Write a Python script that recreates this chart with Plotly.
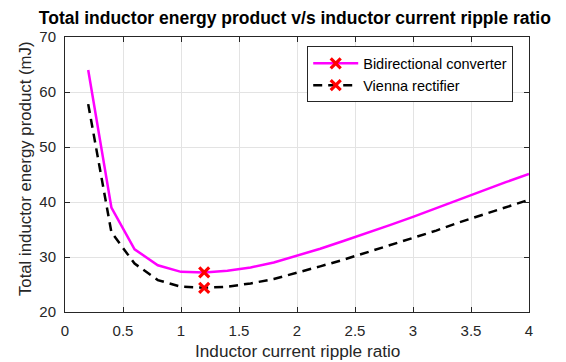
import plotly.graph_objects as go

ripple = [0.2, 0.4, 0.6, 0.8, 1.0, 1.2, 1.4, 1.6, 1.8, 2.0, 2.2, 2.4, 2.6, 2.8,
          3.0, 3.2, 3.4, 3.6, 3.8, 4.0]
bidirectional = [64.0, 39.0, 31.4, 28.5, 27.3, 27.2, 27.5, 28.1, 29.0, 30.2, 31.5,
                 32.9, 34.3, 35.8, 37.3, 38.9, 40.5, 42.1, 43.6, 45.1]
vienna = [57.8, 34.5, 28.8, 25.8, 24.6, 24.4, 24.6, 25.2, 26.0, 27.1, 28.3, 29.5,
          30.8, 32.1, 33.4, 34.8, 36.3, 37.7, 39.0, 40.4]
names = ["Bidirectional converter", "Vienna rectifier"]
x_ticks = [0, 0.5, 1, 1.5, 2, 2.5, 3, 3.5, 4]
y_ticks = [20, 30, 40, 50, 60, 70]
title_text = "Total inductor energy product v/s inductor current ripple ratio"
x_title = "Inductor current ripple ratio"
y_title = "Total inductor energy product (mJ)"

FONT = "Liberation Sans, Arial, sans-serif"
AX = "#262626"
styles = [dict(color="#FF00FF", width=2.5, dash="solid"),
          dict(color="black", width=2.5, dash="9px,6px")]
mk = dict(symbol="x-thin", size=10, color="red", line=dict(color="red", width=3.2))

fig = go.Figure()
for name, ys, st in zip(names, [bidirectional, vienna], styles):
    fig.add_trace(go.Scatter(x=ripple, y=ys, mode="lines", line=st,
                             showlegend=False, hoverinfo="skip"))
    i = ys.index(min(ys))
    fig.add_trace(go.Scatter(x=[ripple[i]], y=[ys[i]], mode="markers", marker=mk,
                             showlegend=False))
for name, st in zip(names, styles):
    fig.add_trace(go.Scatter(x=[None], y=[None], mode="lines+markers", name=name,
                             line=st, marker=mk))

axis_common = dict(showline=True, linecolor=AX, linewidth=1, mirror="ticks",
                   ticks="inside", ticklen=5, tickcolor=AX, showgrid=True,
                   gridcolor="#e3e3e3", gridwidth=1, zeroline=False,
                   automargin=False,
                   tickfont=dict(family=FONT, size=15, color=AX))
fig.update_xaxes(range=[0, 4], tickvals=x_ticks,
                 ticktext=[f"{v:g}" for v in x_ticks], ticklabelstandoff=5,
                 **axis_common)
fig.update_yaxes(range=[20, 70], tickvals=y_ticks, ticklabelstandoff=5,
                 **axis_common)

fig.add_annotation(text=x_title, xref="paper", yref="paper", x=0.5, y=-0.142,
                   xanchor="center", yanchor="middle", showarrow=False,
                   font=dict(family=FONT, size=17.2, color=AX))
fig.add_annotation(text=y_title, xref="paper", yref="paper", x=-0.086, y=0.52,
                   xanchor="center", yanchor="middle", showarrow=False, textangle=-90,
                   font=dict(family=FONT, size=16.8, color=AX))

fig.update_layout(
    width=566, height=362,
    margin=dict(l=65, r=37, t=37, b=50),
    paper_bgcolor="white", plot_bgcolor="white",
    title=dict(text=f"<b>{title_text}</b>",
               font=dict(family=FONT, size=17.5, color="black"),
               x=0.521, xanchor="center", y=0.951, yanchor="middle"),
    legend=dict(x=0.522, y=0.966, xanchor="left", yanchor="top",
                bgcolor="white", bordercolor=AX, borderwidth=1,
                font=dict(family=FONT, size=14.5, color="black"),
                tracegroupgap=0, itemwidth=45),
    showlegend=True,
)
fig.write_html("out.html")
